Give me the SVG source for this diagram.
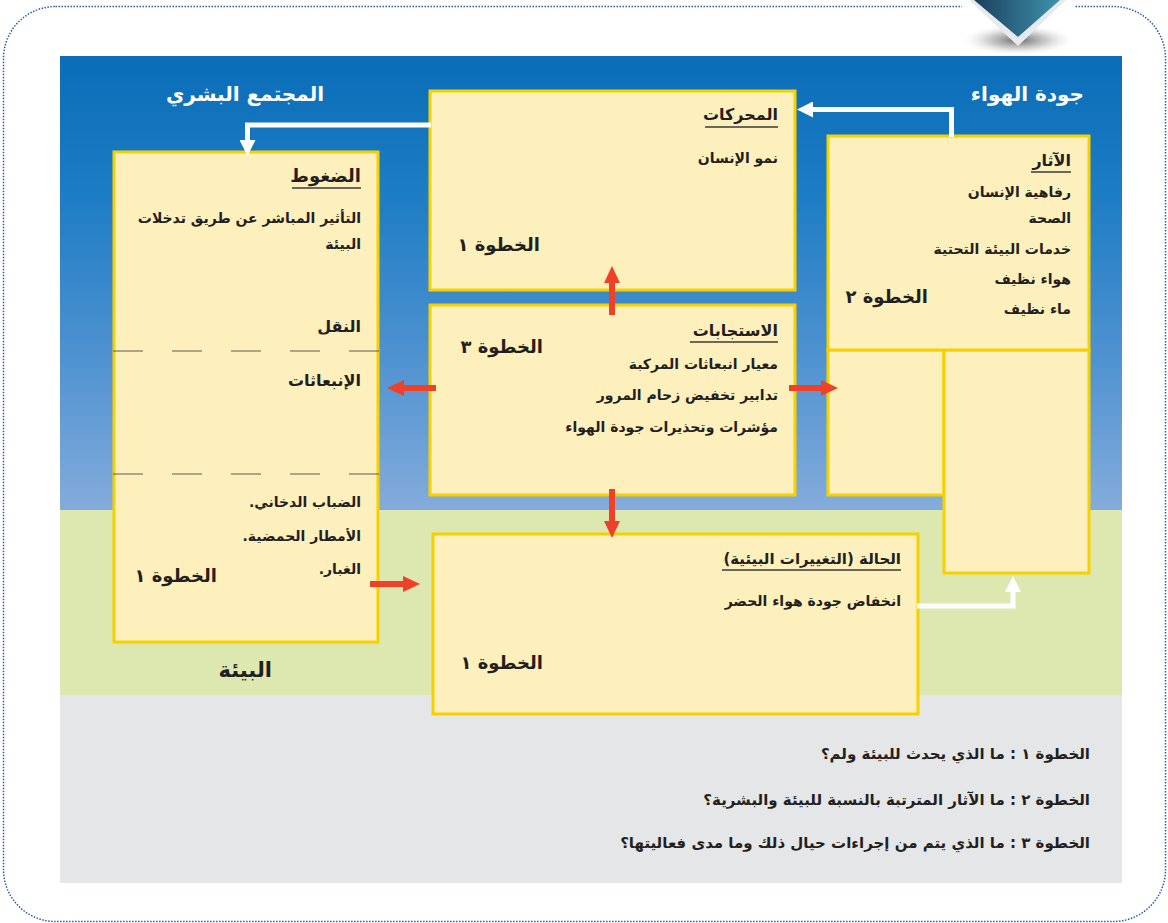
<svg xmlns="http://www.w3.org/2000/svg" width="1168" height="923" viewBox="0 0 1168 923">
  <defs>
    <linearGradient id="sky" x1="0" y1="0" x2="0" y2="1">
      <stop offset="0" stop-color="#0a6db7"/>
      <stop offset="0.3" stop-color="#1c7cc4"/>
      <stop offset="0.65" stop-color="#4d91d0"/>
      <stop offset="1" stop-color="#84acdb"/>
    </linearGradient>
    <linearGradient id="tri" x1="0" y1="0" x2="1" y2="0">
      <stop offset="0" stop-color="#1b3f5c"/>
      <stop offset="1" stop-color="#3f92ae"/>
    </linearGradient>
    <radialGradient id="shadow" cx="0.5" cy="0.5" r="0.5">
      <stop offset="0" stop-color="#555" stop-opacity="0.9"/>
      <stop offset="0.5" stop-color="#999" stop-opacity="0.5"/>
      <stop offset="1" stop-color="#fff" stop-opacity="0"/>
    </radialGradient>
    <marker id="hw" viewBox="0 0 16 16" refX="0" refY="8" markerWidth="16" markerHeight="16" markerUnits="userSpaceOnUse" orient="auto">
      <path d="M0,0 L16,8 L0,16 z" fill="#ffffff"/>
    </marker>
    <marker id="hr" viewBox="0 0 17 16" refX="0" refY="8" markerWidth="17" markerHeight="16" markerUnits="userSpaceOnUse" orient="auto">
      <path d="M0,0 L17,8 L0,16 z" fill="#ee4127"/>
    </marker>
    <style>
      .box { fill:#fef0bc; stroke:#f7d000; stroke-width:3; }
      .t { font-family:"DejaVu Sans", sans-serif; direction:rtl; text-anchor:start; fill:#231f20; font-weight:bold; }
      .body { font-size:14px; }
      .ttl { font-size:16px; }
      .ul { stroke:#3a3a3a; stroke-width:1.3; }
      .step { font-size:18px; }
      .hdr { font-size:20px; fill:#ffffff; }
      .env { font-size:21px; }
      .q { font-size:15px; }
      .wa { fill:none; stroke:#ffffff; stroke-width:5; marker-end:url(#hw); }
      .ra { fill:none; stroke:#ee4127; stroke-width:6; marker-end:url(#hr); }
      .dash { stroke:#5a5a50; stroke-width:1.2; stroke-dasharray:30 29; }
    </style>
  </defs>

  <rect x="0" y="0" width="1168" height="923" fill="#ffffff"/>
  <rect x="3.5" y="6.5" width="1162" height="915" rx="52" ry="52" fill="none" stroke="#2b5ba8" stroke-width="1.5" stroke-dasharray="1.5 1.5"/>

  <!-- top right tab -->
  <ellipse cx="1018" cy="40" rx="58" ry="16" fill="url(#shadow)"/>
  <rect x="962" y="0" width="112" height="8" fill="#ffffff"/>
  <polygon points="969,0 1066,0 1018,46" fill="#e6eaee"/>
  <polygon points="974,0 1060,0 1018,37" fill="url(#tri)"/>

  <!-- panel backgrounds -->
  <rect x="60" y="56" width="1062" height="454" fill="url(#sky)"/>
  <rect x="60" y="510" width="1062" height="185" fill="#dde8b0"/>
  <rect x="60" y="695" width="1062" height="188" fill="#e5e6e8"/>

  <!-- section headers -->
  <text class="t hdr" x="324" y="101">المجتمع البشري</text>
  <text class="t hdr" x="1084" y="101">جودة الهواء</text>
  <text class="t env" x="272" y="677">البيئة</text>

  <!-- pressures -->
  <g id="pressures">
    <rect class="box" x="114" y="152" width="264" height="490"/>
    <line class="dash" x1="113" y1="351" x2="380" y2="351"/>
    <line class="dash" x1="113" y1="474" x2="380" y2="474"/>
    <text class="t ttl" x="361" y="182" style="font-size:18px">الضغوط</text>
    <line class="ul" x1="292" y1="188" x2="361" y2="188"/>
    <text class="t body" x="361" y="223">التأثير المباشر عن طريق تدخلات</text>
    <text class="t body" x="361" y="249">البيئة</text>
    <text class="t ttl" x="361" y="332">النقل</text>
    <text class="t ttl" x="361" y="386">الإنبعاثات</text>
    <text class="t body" x="361" y="507">الضباب الدخاني.</text>
    <text class="t body" x="361" y="541">الأمطار الحمضية.</text>
    <text class="t body" x="361" y="574">الغبار.</text>
    <text class="t step" x="217" y="582">الخطوة ١</text>
  </g>

  <!-- drivers -->
  <g id="drivers">
    <rect class="box" x="430" y="91" width="365" height="199"/>
    <text class="t ttl" x="778" y="120">المحركات</text>
    <line class="ul" x1="705" y1="127" x2="778" y2="127"/>
    <text class="t body" x="778" y="163">نمو الإنسان</text>
    <text class="t step" x="540" y="251">الخطوة ١</text>
  </g>

  <!-- impacts -->
  <g id="impacts">
    <rect class="box" x="828" y="350" width="116" height="145"/>
    <rect class="box" x="944" y="350" width="145" height="223"/>
    <rect class="box" x="828" y="136" width="261" height="214"/>
    <text class="t ttl" x="1071" y="166">الآثار</text>
    <line class="ul" x1="1031" y1="172" x2="1071" y2="172"/>
    <text class="t body" x="1071" y="197">رفاهية الإنسان</text>
    <text class="t body" x="1071" y="223">الصحة</text>
    <text class="t body" x="1071" y="254">خدمات البيئة التحتية</text>
    <text class="t body" x="1071" y="284">هواء نظيف</text>
    <text class="t body" x="1071" y="314">ماء نظيف</text>
    <text class="t step" x="928" y="303">الخطوة ٢</text>
  </g>

  <!-- responses -->
  <g id="responses">
    <rect class="box" x="430" y="305" width="365" height="190"/>
    <text class="t ttl" x="778" y="336">الاستجابات</text>
    <line class="ul" x1="690" y1="342" x2="778" y2="342"/>
    <text class="t body" x="778" y="369">معيار انبعاثات المركبة</text>
    <text class="t body" x="778" y="400">تدابير تخفيض زحام المرور</text>
    <text class="t body" x="778" y="432">مؤشرات وتحذيرات جودة الهواء</text>
    <text class="t step" x="543" y="353">الخطوة ٣</text>
  </g>

  <!-- state -->
  <g id="state">
    <rect class="box" x="433" y="534" width="485" height="180"/>
    <text class="t ttl" x="901" y="564" style="font-size:15px">الحالة (التغييرات البيئية)</text>
    <line class="ul" x1="722" y1="570" x2="901" y2="570"/>
    <text class="t body" x="901" y="606">انخفاض جودة هواء الحضر</text>
    <text class="t step" x="543" y="669">الخطوة ١</text>
  </g>

  <!-- questions -->
  <g id="questions">
    <text class="t q" x="1090" y="759">الخطوة ١ : ما الذي يحدث للبيئة ولم؟</text>
    <text class="t q" x="1090" y="805">الخطوة ٢ : ما الآثار المترتبة بالنسبة للبيئة والبشرية؟</text>
    <text class="t q" x="1090" y="848">الخطوة ٣ : ما الذي يتم من إجراءات حيال ذلك وما مدى فعاليتها؟</text>
  </g>

  <!-- connectors -->
  <g id="connectors">
    <polyline class="wa" points="431,125 247.5,125 247.5,140"/>
    <polyline class="wa" points="951.5,137 951.5,109.5 813,109.5"/>
    <polyline class="wa" points="917,606 1013,606 1013,592"/>
    <line class="ra" x1="612" y1="315" x2="612" y2="283"/>
    <line class="ra" x1="436" y1="388" x2="404" y2="388"/>
    <line class="ra" x1="789" y1="388" x2="821" y2="388"/>
    <line class="ra" x1="612" y1="489" x2="612" y2="521"/>
    <line class="ra" x1="370" y1="584" x2="403" y2="584"/>
  </g>
</svg>
